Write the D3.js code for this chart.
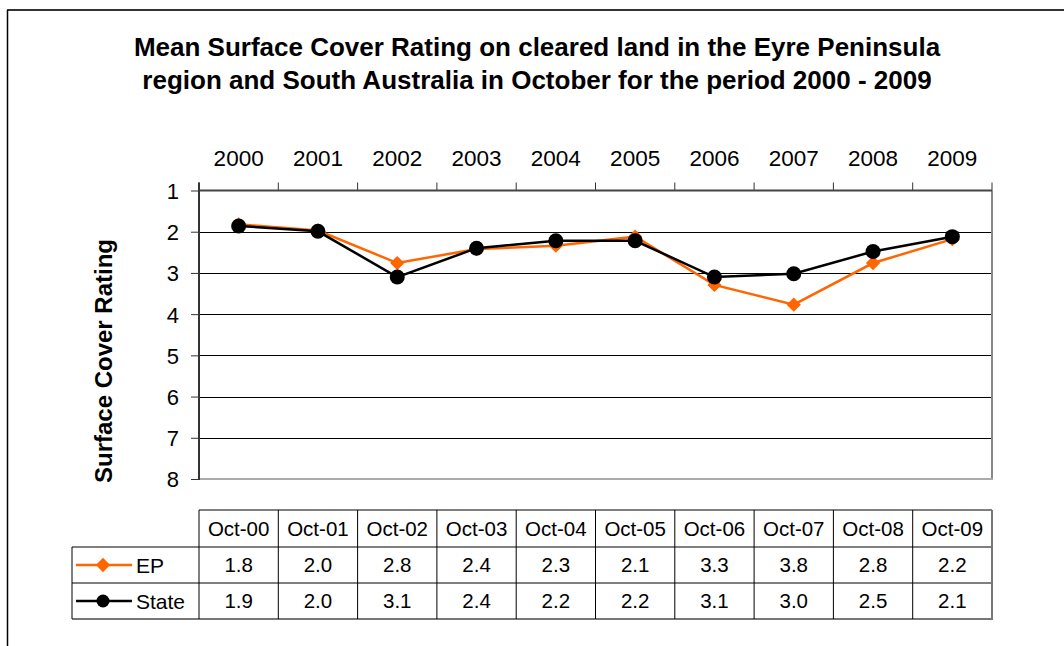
<!DOCTYPE html>
<meta charset="utf-8">
<html>
<head>
  <script src="https://d3js.org/d3.v7.min.js"></script>
  <style>
    body { margin: 0; background: #fff; }
    svg { display: block; font-family: "Liberation Sans", Arial, sans-serif; }
  </style>
</head>
<body>
  <svg></svg>
  <script type="text/javascript">
    // chart data
    var years = ['2000', '2001', '2002', '2003', '2004', '2005', '2006', '2007', '2008', '2009']
    var tableLabels = ['Oct-00', 'Oct-01', 'Oct-02', 'Oct-03', 'Oct-04', 'Oct-05', 'Oct-06', 'Oct-07', 'Oct-08', 'Oct-09']
    var epValues = [1.82, 1.97, 2.76, 2.42, 2.34, 2.12, 3.29, 3.77, 2.76, 2.18]
    var stateValues = [1.86, 1.99, 3.10, 2.40, 2.22, 2.22, 3.10, 3.02, 2.48, 2.12]
    var yTicks = [1, 2, 3, 4, 5, 6, 7, 8]
    var seriesNames = ['EP', 'State']
    var seriesColors = ['#ff6600', '#000000']

    const width = 1064
    const height = 646
    const svg = d3.select('svg').attr('width', width).attr('height', height)
    const fontFam = '"Liberation Sans", Arial, sans-serif'

    // outer frame (only top & left visible in the original)
    svg.append('line').attr('x1', 7).attr('x2', width).attr('y1', 10).attr('y2', 10)
      .attr('stroke', '#333').attr('stroke-width', 2)
    svg.append('line').attr('x1', 7.5).attr('x2', 7.5).attr('y1', 10).attr('y2', height)
      .attr('stroke', '#000').attr('stroke-width', 1.5)

    // title
    const title = svg.append('text').attr('text-anchor', 'middle')
      .attr('font-weight', 'bold').attr('font-size', 26)
    title.append('tspan').attr('x', 537).attr('y', 56)
      .text('Mean Surface Cover Rating on cleared land in the Eyre Peninsula')
    title.append('tspan').attr('x', 537).attr('y', 89)
      .text('region and South Australia in October for the period 2000 - 2009')

    const plotLeft = 199, plotRight = 992, plotTop = 190.5, plotBottom = 479

    var x = d3.scaleBand().domain(years).range([plotLeft, plotRight])
    var y = d3.scaleLinear().domain([1, 8]).range([plotTop, plotBottom])

    // gridlines
    svg.append('g').selectAll('line').data(yTicks.slice(1, -1)).enter().append('line')
      .attr('x1', plotLeft).attr('x2', plotRight)
      .attr('y1', d => Math.round(y(d)) + 0.5).attr('y2', d => Math.round(y(d)) + 0.5)
      .attr('stroke', '#000').attr('stroke-width', 1)

    // plot area right / bottom border
    svg.append('line').attr('x1', plotRight).attr('x2', plotRight).attr('y1', plotTop).attr('y2', plotBottom)
      .attr('stroke', '#888').attr('stroke-width', 2)
    svg.append('line').attr('x1', plotLeft).attr('x2', plotRight + 1).attr('y1', plotBottom).attr('y2', plotBottom)
      .attr('stroke', '#aaa').attr('stroke-width', 2)

    // top axis with year labels
    const xAxis = svg.append('g').attr('transform', 'translate(0,' + plotTop + ')')
      .call(d3.axisTop(x).tickSize(0).tickPadding(25))
    xAxis.select('.domain').remove()
    xAxis.selectAll('text').attr('font-size', 22.5).attr('font-family', fontFam).attr('fill', '#000')
    svg.append('g').selectAll('line').data(d3.range(years.length + 1)).enter().append('line')
      .attr('x1', i => plotLeft + i * x.bandwidth()).attr('x2', i => plotLeft + i * x.bandwidth())
      .attr('y1', plotTop - 8).attr('y2', plotTop)
      .attr('stroke', '#333').attr('stroke-width', 1)
    svg.append('line').attr('x1', plotLeft).attr('x2', plotRight).attr('y1', plotTop).attr('y2', plotTop)
      .attr('stroke', '#444').attr('stroke-width', 2)

    // left axis
    const yAxis = svg.append('g').attr('transform', 'translate(' + plotLeft + ',0)')
      .call(d3.axisLeft(y).tickValues(yTicks).tickSize(8).tickPadding(12).tickFormat(d3.format('d')))
    yAxis.select('.domain').remove()
    yAxis.selectAll('.tick line').attr('stroke', '#333')
    yAxis.selectAll('text').attr('font-size', 22).attr('font-family', fontFam)
      .attr('fill', '#000').attr('dy', '0.36em')
    svg.append('line').attr('x1', plotLeft).attr('x2', plotLeft).attr('y1', plotTop - 8).attr('y2', plotBottom + 1)
      .attr('stroke', '#333').attr('stroke-width', 2)

    svg.append('text')
      .attr('transform', 'translate(112,361) rotate(-90)')
      .attr('text-anchor', 'middle').attr('font-weight', 'bold').attr('font-size', 24)
      .text('Surface Cover Rating')

    // series
    var series = [epValues, stateValues]
    var line = d3.line()
      .x((d, i) => x(years[i]) + x.bandwidth() / 2)
      .y(d => y(d))

    series.forEach(function (vals, s) {
      svg.append('path').datum(vals).attr('d', line)
        .attr('fill', 'none').attr('stroke', seriesColors[s]).attr('stroke-width', 2.5)
    })
    svg.append('g').selectAll('path').data(epValues).enter().append('path')
      .attr('d', d3.symbol(d3.symbolDiamond2, 130))
      .attr('transform', (d, i) => 'translate(' + (x(years[i]) + x.bandwidth() / 2) + ',' + y(d) + ')')
      .attr('fill', seriesColors[0])
    svg.append('g').selectAll('circle').data(stateValues).enter().append('circle')
      .attr('cx', (d, i) => x(years[i]) + x.bandwidth() / 2)
      .attr('cy', d => y(d))
      .attr('r', 7.5)
      .attr('fill', seriesColors[1])

    // data table
    const rowTop = [510, 547, 583, 619]
    const legendLeft = 72
    const table = svg.append('g')
    const fmt = d3.format('.1f')

    // header row cells
    table.selectAll('text.head').data(tableLabels).enter().append('text')
      .attr('x', (d, i) => x(years[i]) + x.bandwidth() / 2)
      .attr('y', (rowTop[0] + rowTop[1]) / 2 + 7.5)
      .attr('text-anchor', 'middle').attr('font-size', 20.5).text(d => d)

    series.forEach(function (vals, s) {
      const yc = (rowTop[s + 1] + rowTop[s + 2]) / 2
      table.append('g').selectAll('text').data(vals).enter().append('text')
        .attr('x', (d, i) => x(years[i]) + x.bandwidth() / 2)
        .attr('y', yc + 7.3)
        .attr('text-anchor', 'middle').attr('font-size', 20.5).text(d => fmt(d))
      // legend key
      table.append('line').attr('x1', 76).attr('x2', 132).attr('y1', yc).attr('y2', yc)
        .attr('stroke', seriesColors[s]).attr('stroke-width', 2.5)
      if (s === 0) {
        table.append('path').attr('d', d3.symbol(d3.symbolDiamond2, 130))
          .attr('transform', 'translate(103,' + yc + ')').attr('fill', seriesColors[s])
      } else {
        table.append('circle').attr('cx', 103).attr('cy', yc).attr('r', 6.5).attr('fill', seriesColors[s])
      }
      table.append('text').attr('x', 136).attr('y', yc + 8).attr('font-size', 21).text(seriesNames[s])
    })

    // table grid lines
    table.append('line').attr('x1', plotLeft).attr('x2', plotRight).attr('y1', rowTop[0]).attr('y2', rowTop[0])
      .attr('stroke', '#000')
    table.append('line').attr('x1', legendLeft).attr('x2', plotRight).attr('y1', rowTop[1]).attr('y2', rowTop[1])
      .attr('stroke', '#000')
    table.append('line').attr('x1', legendLeft).attr('x2', plotRight).attr('y1', rowTop[2]).attr('y2', rowTop[2])
      .attr('stroke', '#000')
    table.append('line').attr('x1', legendLeft).attr('x2', plotRight + 1).attr('y1', rowTop[3]).attr('y2', rowTop[3])
      .attr('stroke', '#777').attr('stroke-width', 2)
    table.append('line').attr('x1', legendLeft).attr('x2', legendLeft).attr('y1', rowTop[1]).attr('y2', rowTop[3])
      .attr('stroke', '#000')
    table.selectAll('line.col').data(d3.range(years.length)).enter().append('line')
      .attr('x1', i => plotLeft + i * x.bandwidth()).attr('x2', i => plotLeft + i * x.bandwidth())
      .attr('y1', rowTop[0]).attr('y2', rowTop[3])
      .attr('stroke', '#000')
    table.append('line').attr('x1', plotRight).attr('x2', plotRight).attr('y1', rowTop[0]).attr('y2', rowTop[3])
      .attr('stroke', '#777').attr('stroke-width', 2)
  </script>
</body>
</html>
